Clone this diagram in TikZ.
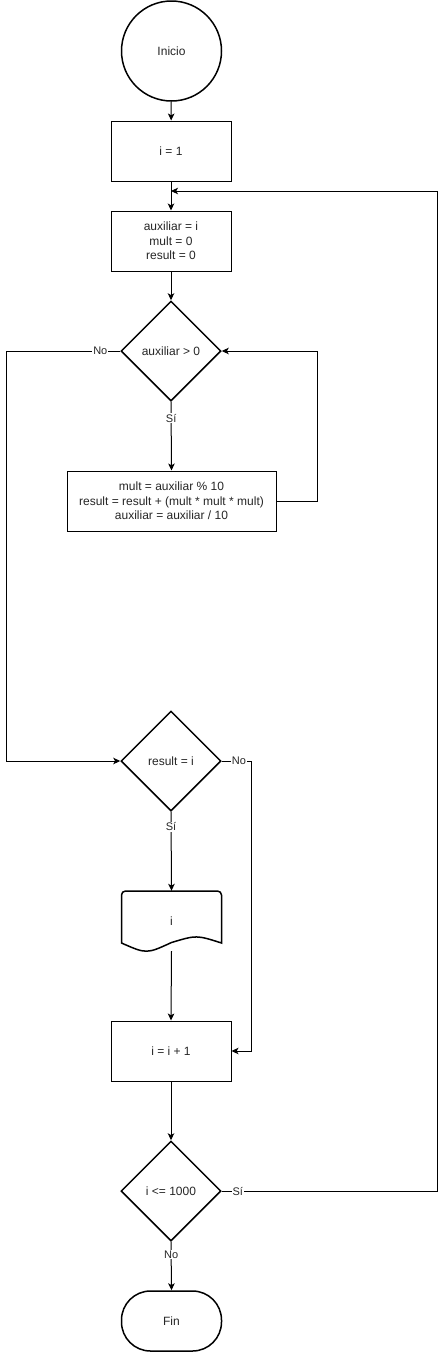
\documentclass[tikz,border=0pt]{standalone}
\usepackage{fontspec}
\setmainfont{Liberation Sans}
\usetikzlibrary{shapes.geometric,arrows.meta}
\begin{document}
\begin{tikzpicture}[x=1pt,y=-1pt,
  txt/.style={font=\fontsize{12}{14.5}\selectfont, text=black!85, align=center},
  proc/.style={txt, draw, line width=1pt, minimum width=120pt, minimum height=60pt, inner sep=2pt},
  dec/.style={txt, draw, diamond, line width=1.5pt, minimum width=100pt, minimum height=100pt, inner sep=0pt},
  conn/.style={line width=1pt, -{Stealth[length=7pt,width=6.5pt,inset=1.8pt]}},
  lbl/.style={font=\fontsize{11}{13}\selectfont, fill=white, inner sep=1pt, text=black!85}]
\useasboundingbox[fill=white] (0,0) rectangle (446,1352);

\node[txt, circle, draw, line width=1.5pt, minimum size=100pt, inner sep=0pt] (start) at (171.5,51) {Inicio};
\node[proc] (i1) at (171,151) {i = 1};
\node[proc] (aux) at (171,241) {auxiliar = i\\mult = 0\\result = 0};
\node[dec] (c1) at (171,351) {auxiliar > 0};
\node[proc, minimum width=209pt] (body) at (171.5,501) {mult = auxiliar \% 10\\result = result + (mult * mult * mult)\\auxiliar = auxiliar / 10};
\node[dec] (c2) at (171,761) {result = i};
\node[txt, minimum width=100pt, minimum height=60pt, inner sep=0pt] (out) at (171.5,921) {i};
\draw[line width=1.5pt] (121.5,943) [rounded corners=4pt] -- (121.5,891) -- (221.5,891) [sharp corners] -- (221.5,943)
  .. controls (196.5,935) .. (171.5,942.5) .. controls (146.5,954) .. (121.5,943) -- cycle;
\node[proc] (inc) at (171,1051) {i = i + 1};
\node[dec] (c3) at (171,1191) {i <= 1000};
\node[txt, draw, line width=1.5pt, rounded corners=29pt, minimum width=100pt, minimum height=60pt] (fin) at (171.5,1321) {Fin};
\coordinate (join) at (171,191);

\draw[conn] (start) -- (i1);
\draw[conn] (i1.south) -- (aux.north);
\draw[conn] (aux) -- (c1);
\draw[conn] (c1.south) -- node[lbl,pos=0.24]{Sí} (body.north);
\draw[conn] (body.east) -- ++(41,0) |- (c1.east);
\draw[conn] (c1.west) -- node[lbl,pos=0.175]{No} ++(-114,0) |- (c2.west);
\draw[conn] (c2.south) -- node[lbl,pos=0.19]{Sí} (out.north);
\draw[conn] (c2.east) -- node[lbl,pos=0.57]{No} ++(30,0) |- (inc.east);
\draw[conn] (out.south) -- (inc.north);
\draw[conn] (inc) -- (c3);
\draw[conn] (c3.south) -- node[lbl,pos=0.26]{No} (fin.north);
\draw[conn] (c3.east) -- node[lbl,pos=0.074]{Sí} ++(216,0) |- (join);
\end{tikzpicture}
\end{document}
